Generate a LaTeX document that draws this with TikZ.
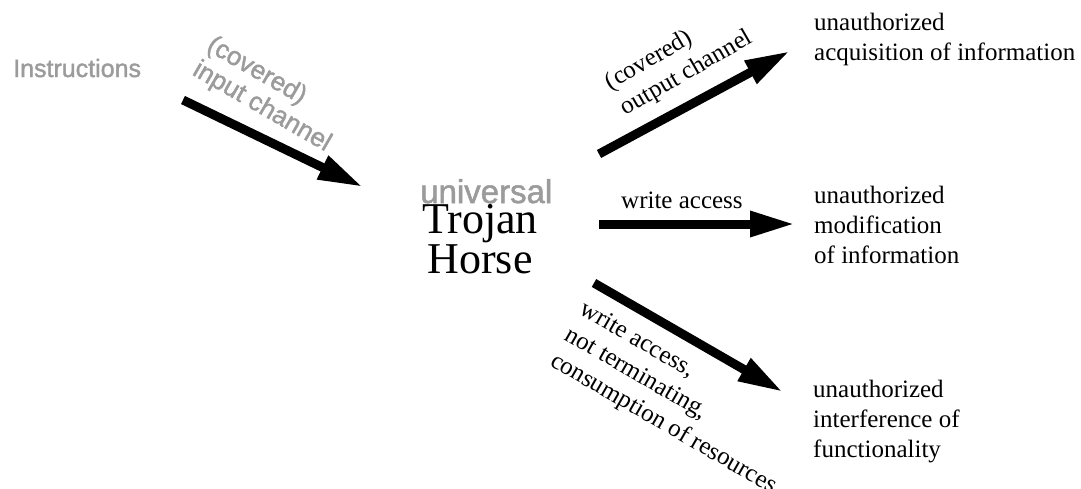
\documentclass[tikz,border=0pt]{standalone}
\usepackage{fontspec}
\setmainfont{Liberation Serif}
\setsansfont{Liberation Sans}
\newfontfamily\heavysans[FakeBold=1.5]{Liberation Sans}
\usetikzlibrary{arrows.meta}
\definecolor{greytext}{RGB}{155,155,155}
\begin{document}
\begin{tikzpicture}[x=1pt,y=1pt,
  txt/.style={font=\fontsize{25}{29.7}\selectfont, inner sep=0pt, align=left},
  graytxt/.style={font=\heavysans\fontsize{25}{28}\selectfont, text=greytext, inner sep=0pt, align=left},
  bigarrow/.style={line width=9pt, -{Triangle[length=45pt,width=24pt]}}]
\useasboundingbox (0,0) rectangle (1081,-488);

% source and centre
\node[graytxt, anchor=base west] (instr) at (13,-77) {Instructions};
\node[graytxt, font=\heavysans\fontsize{33}{36}\selectfont, anchor=base west] (univ) at (420,-203) {universal};
\node[txt, font=\fontsize{44}{30}\selectfont, align=center, anchor=base] (trojan) at (480,-273) {Trojan\\Horse};

% consequences (base = last line)
\node[txt, anchor=base west] (acq) at (814,-60) {unauthorized\\acquisition of information};
\node[txt, anchor=base west] (mod) at (814,-263) {unauthorized\\modification\\of information};
\node[txt, anchor=base west] (intf) at (813,-457) {unauthorized\\interference of\\functionality};

% channel labels
\node[graytxt, font=\heavysans\fontsize{26}{28.5}\selectfont, rotate=-30, anchor=north west] (inlbl) at (215,-33) {(covered)\\input channel};
\node[txt, rotate=30, anchor=north west] (outlbl) at (602,-75) {(covered)\\output channel};
\node[txt, anchor=base west] (wlbl) at (621,-208) {write access};
\node[txt, rotate=-30, anchor=north west] (rlbl) at (587,-299) {write access,\\not terminating,\\consumption of resources};

% arrow end points
\coordinate (in0) at (183,-100);  \coordinate (in1) at (363,-187);
\coordinate (out0) at (599,-154); \coordinate (out1) at (790,-51);
\coordinate (wr0) at (599,-224);  \coordinate (wr1) at (795,-224);
\coordinate (rs0) at (594,-283);  \coordinate (rs1) at (783,-392);

\draw[bigarrow] (in0) -- (in1);
\draw[bigarrow] (out0) -- (out1);
\draw[bigarrow] (wr0) -- (wr1);
\draw[bigarrow] (rs0) -- (rs1);
\end{tikzpicture}
\end{document}
